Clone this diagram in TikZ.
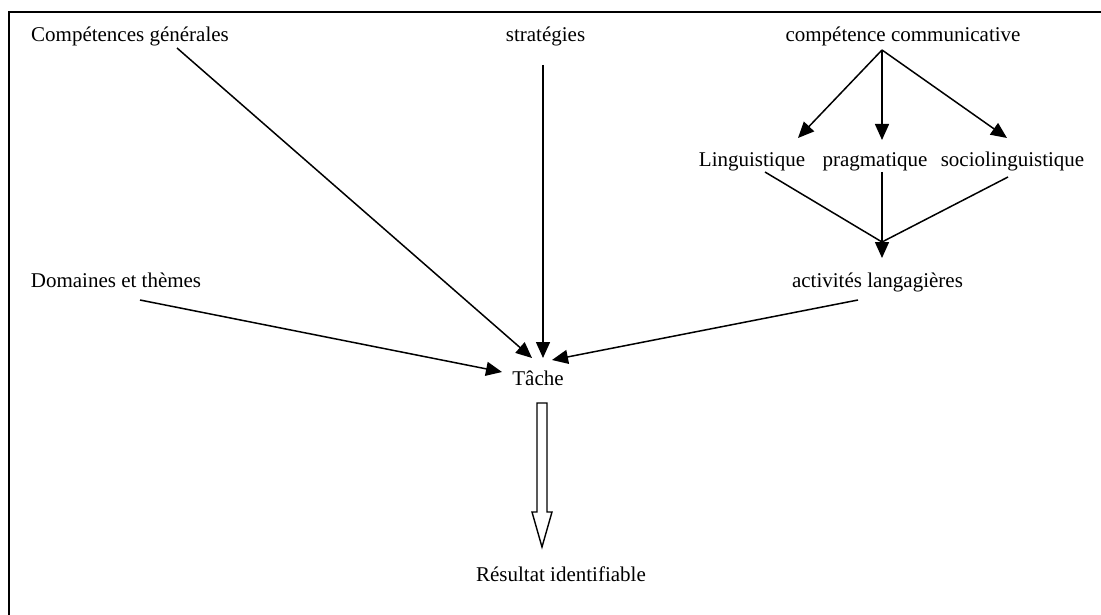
\documentclass[tikz,border=0pt]{standalone}
\usepackage{fontspec}
\setmainfont{Liberation Serif}
\usepackage{tikz}
\usetikzlibrary{arrows.meta,positioning}

\begin{document}
\begin{tikzpicture}[
    x=1pt, y=-1pt,
    label/.style={inner sep=0pt, text height=14pt, text depth=5pt, font=\fontsize{21}{25}\selectfont},
    arrow/.style={-{Triangle[length=16pt,width=14pt]}, line width=1.5pt},
    link/.style={line width=1.5pt},
    hollow/.style={line width=1.4pt, fill=white, line join=miter}
]
\useasboundingbox (0,0) rectangle (1101,615);

% Frame
\draw [line width=1.6pt] (9,615) -- (9,12) -- (1101,12);

% Top row
\node [label] (general) at (130,37.5) {Compétences générales};
\node [label] (strategies) at (545.5,37.5) {stratégies};
\node [label] (communicative) at (903,37.5) {compétence communicative};

% Components
\node [label] (linguistique) at (752,162.5) {Linguistique};
\node [label] (pragmatique) at (875,162.5) {pragmatique};
\node [label] (socio) at (1012.5,162.5) {sociolinguistique};

% Middle row
\node [label] (domaines) at (116,282.5) {Domaines et thèmes};
\node [label] (activites) at (877.5,282.5) {activités langagières};

% Task and result
\node [label] (tache) at (538,380.5) {Tâche};
\node [label] (resultat) at (561,576.5) {Résultat identifiable};

% Arrows - communicative competence
\draw [arrow] ([xshift=-21pt,yshift=-12.5pt]communicative.center) -- ([xshift=46pt,yshift=24.5pt]linguistique.center);
\draw [arrow] ([xshift=-21pt,yshift=-12.5pt]communicative.center) -- ([xshift=7pt,yshift=22.5pt]pragmatique.center);
\draw [arrow] ([xshift=-21pt,yshift=-12.5pt]communicative.center) -- ([xshift=-5.5pt,yshift=24.5pt]socio.center);

% Arrows - components to activities
\coordinate (merge) at ([xshift=4.5pt,yshift=40.5pt]activites.center);
\draw [link] ([xshift=13pt,yshift=-9.5pt]linguistique.center) -- (merge);
\draw [link] ([xshift=-4.5pt,yshift=-14.5pt]socio.center) -- (merge);
\draw [arrow] ([xshift=7pt,yshift=-9.5pt]pragmatique.center) -- ([xshift=4.5pt,yshift=24.5pt]activites.center);

% Arrows - to task
\draw [arrow] ([xshift=47pt,yshift=-10.5pt]general.center) -- ([xshift=-6pt,yshift=22.5pt]tache.center);
\draw [arrow] ([xshift=-2.5pt,yshift=-27.5pt]strategies.center) -- ([xshift=5pt,yshift=22.5pt]tache.center);
\draw [arrow] ([xshift=24pt,yshift=-17.5pt]domaines.center) -- ([xshift=-36pt,yshift=8.5pt]tache.center);
\draw [arrow] ([xshift=-19.5pt,yshift=-17.5pt]activites.center) -- ([xshift=14pt,yshift=20.5pt]tache.center);

% Hollow arrow - task to result
\draw [hollow] ([xshift=4pt,yshift=-22.5pt]tache.center) ++(-5,0) -- ++(10,0) -- ++(0,109) -- ++(5,0)
    -- ++(-10,35) -- ++(-10,-35) -- ++(5,0) -- cycle;

\end{tikzpicture}
\end{document}
